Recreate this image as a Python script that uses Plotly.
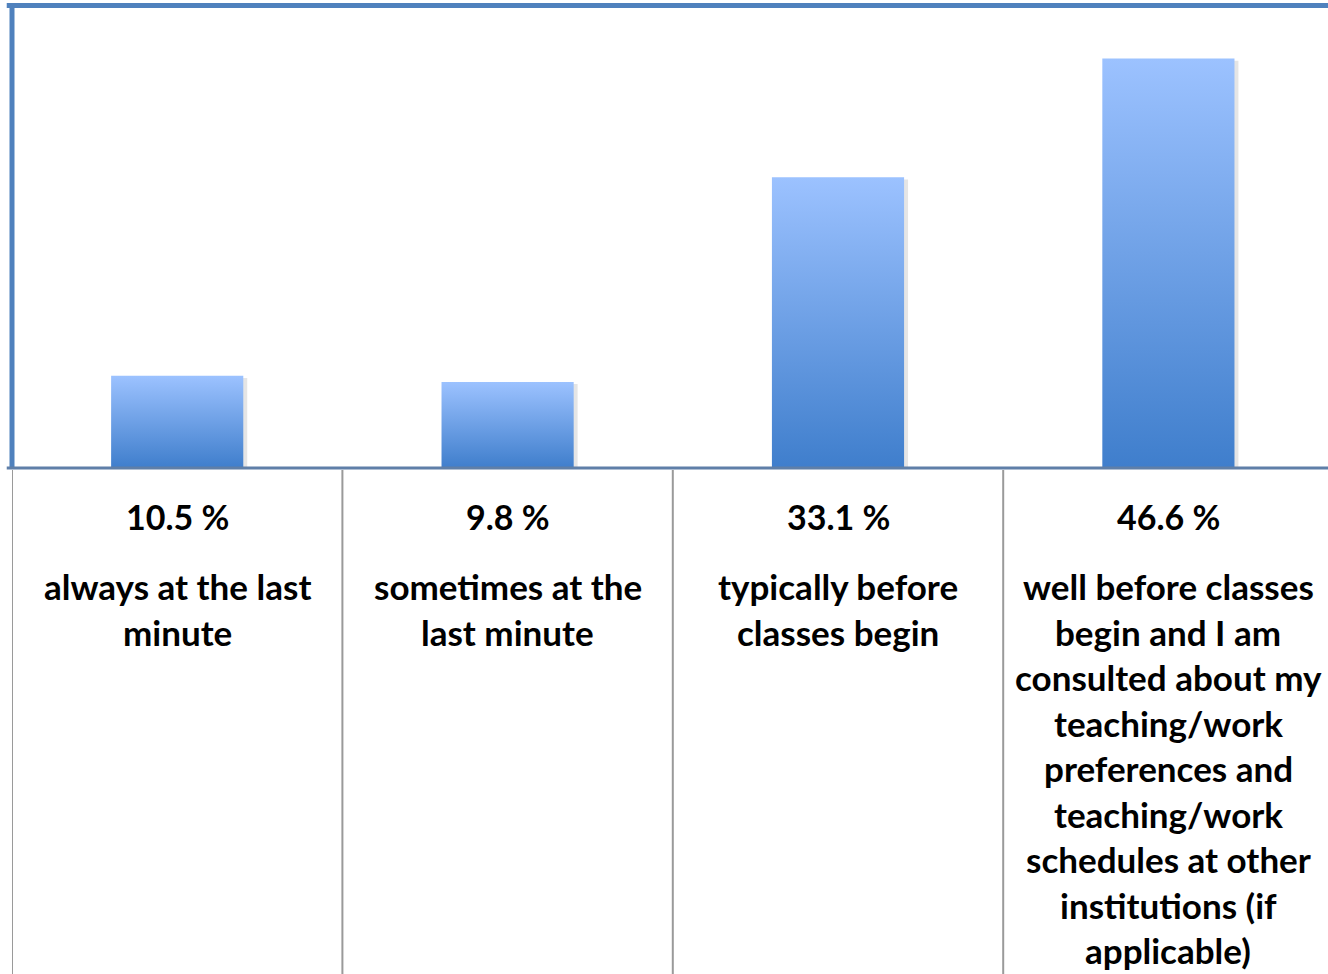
import plotly.graph_objects as go

# ---- data ----
values = [10.5, 9.8, 33.1, 46.6]
value_labels = ["10.5 %", "9.8 %", "33.1 %", "46.6 %"]
category_lines = [
    ["always at the last", "minute"],
    ["sometimes at the", "last minute"],
    ["typically before", "classes begin"],
    ["well before classes", "begin and I am", "consulted about my",
     "teaching/work", "preferences and", "teaching/work",
     "schedules at other", "institutions (if", "applicable)"],
]

# ---- layout constants ----
W, H = 1328, 974
M_L, M_T = 12, 5
BASE_PX = 468
PLOT_H = BASE_PX - M_T
CAT_W = 330.4
Y_MAX = 52.7
BAR_W = 0.40
FONT = "Lato"
FS = 35
FS_PCT = 34
LINE_GAP = 45.5

def py_to_paper(py):
    return (BASE_PX - py) / PLOT_H

fig = go.Figure()

# gradient bars (one filled polygon per value, built from data)
for i, v in enumerate(values):
    x0, x1 = i - BAR_W / 2, i + BAR_W / 2
    # soft shadow
    fig.add_trace(go.Scatter(
        x=[x0 + 0.012, x1 + 0.012, x1 + 0.012, x0 + 0.012, x0 + 0.012],
        y=[0, 0, v - 0.25, v - 0.25, 0],
        mode="lines", fill="toself", fillcolor="rgba(0,0,0,0.10)",
        line=dict(width=0), hoverinfo="skip", showlegend=False))
    fig.add_trace(go.Scatter(
        x=[x0, x1, x1, x0, x0],
        y=[0, 0, v, v, 0],
        mode="lines", fill="toself",
        fillgradient=dict(type="vertical",
                          colorscale=[[0, "#3F7ECC"], [1, "#9CC2FF"]]),
        line=dict(width=0), hoverinfo="skip", showlegend=False))

x_end = -0.5 + (W - M_L) / CAT_W

shapes = []
# table column dividers
for k in range(len(values)):
    shapes.append(dict(type="line", xref="x", yref="paper",
                       x0=k - 0.5, x1=k - 0.5,
                       y0=py_to_paper(470), y1=py_to_paper(H + 5),
                       line=dict(color="#9A9A9A", width=2), layer="above"))
# plot border (left + top)
shapes.append(dict(type="line", xref="paper", yref="paper",
                   x0=0.0, x1=0.0, y0=py_to_paper(BASE_PX), y1=py_to_paper(3),
                   line=dict(color="#4F81BD", width=5), layer="above"))
shapes.append(dict(type="line", xref="paper", yref="paper",
                   x0=-0.004, x1=1.0, y0=py_to_paper(5.5), y1=py_to_paper(5.5),
                   line=dict(color="#4F81BD", width=5), layer="above"))
# baseline
shapes.append(dict(type="line", xref="paper", yref="paper",
                   x0=-0.004, x1=1.0, y0=py_to_paper(BASE_PX), y1=py_to_paper(BASE_PX),
                   line=dict(color="#5F7FA8", width=3), layer="above"))

annotations = []
for i, (lab, lines) in enumerate(zip(value_labels, category_lines)):
    annotations.append(dict(x=i, y=py_to_paper(516), xref="x", yref="paper",
                            text=lab, showarrow=False, xanchor="center",
                            yanchor="middle",
                            font=dict(family=FONT, size=FS_PCT, color="#000000",
                                      weight="bold")))
    for j, ln in enumerate(lines):
        annotations.append(dict(x=i, y=py_to_paper(586 + j * LINE_GAP),
                                xref="x", yref="paper",
                                text=ln, showarrow=False, xanchor="center",
                                yanchor="middle",
                                font=dict(family=FONT, size=FS, color="#000000",
                                          weight="bold")))

fig.update_layout(
    width=W, height=H,
    margin=dict(l=M_L, r=0, t=M_T, b=H - BASE_PX, pad=0),
    paper_bgcolor="white", plot_bgcolor="white",
    showlegend=False,
    xaxis=dict(range=[-0.5, x_end], showgrid=False, zeroline=False,
               showticklabels=False, ticks="", showline=False, fixedrange=True),
    yaxis=dict(range=[0, Y_MAX], showgrid=False, zeroline=False,
               showticklabels=False, ticks="", showline=False, fixedrange=True),
    shapes=shapes,
    annotations=annotations,
)

fig.write_html("out.html", config={"displayModeBar": False},
               post_script="document.body.style.margin='0';"
                           "document.body.style.overflow='hidden';")
